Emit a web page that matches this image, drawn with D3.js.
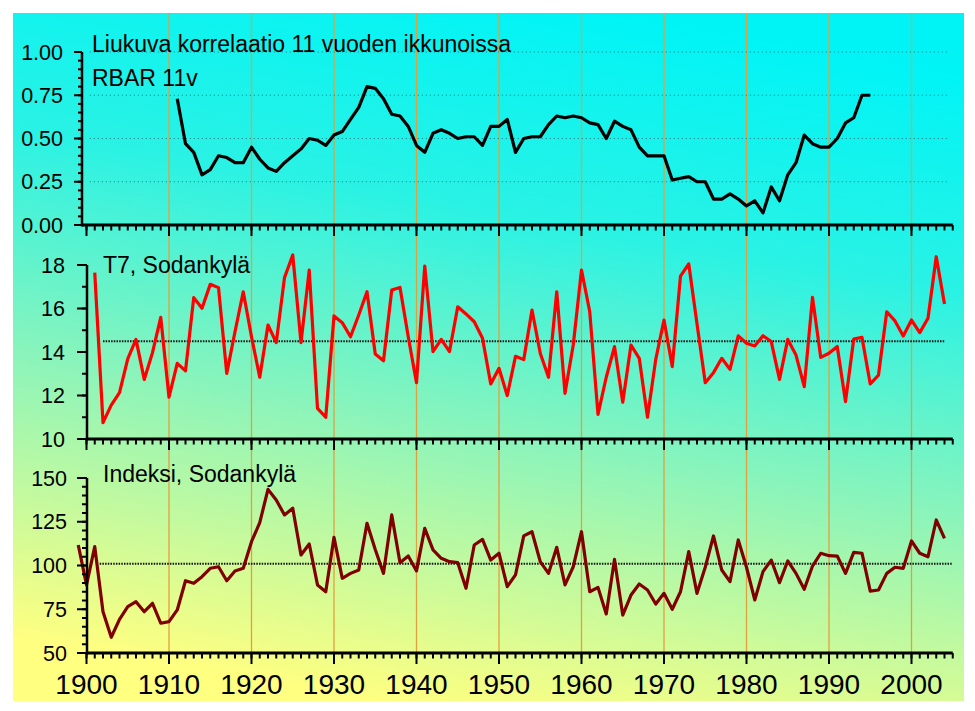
<!DOCTYPE html>
<html>
<head>
<meta charset="utf-8">
<script src="https://cdn.jsdelivr.net/npm/d3@7"></script>
<style>
  html, body { margin: 0; padding: 0; background: #ffffff; }
  svg { display: block; }
  text { font-family: "Liberation Sans", Arial, sans-serif; fill: #000; }
</style>
</head>
<body>
<svg id="chart" width="975" height="711"></svg>
<script>
// ---------------- DATA ----------------
const rbarStart = 1911;
const rbar = [
  0.73,0.47,0.42,0.29,0.32,0.40,0.39,0.36,0.36,
  0.45,0.38,0.33,0.31,0.36,0.40,0.44,0.50,0.49,0.46,
  0.52,0.54,0.61,0.68,0.80,0.79,0.73,0.64,0.63,0.57,
  0.46,0.42,0.53,0.55,0.53,0.50,0.51,0.51,0.46,0.57,
  0.57,0.61,0.42,0.50,0.51,0.51,0.58,0.63,0.62,0.63,
  0.62,0.59,0.58,0.50,0.60,0.57,0.55,0.45,0.40,0.40,
  0.40,0.26,0.27,0.28,0.25,0.25,0.15,0.15,0.18,0.15,
  0.11,0.14,0.07,0.22,0.14,0.29,0.36,0.52,0.47,0.45,
  0.45,0.50,0.59,0.62,0.75,0.75
];

const t7Start = 1901;
const t7 = [
  17.65,10.75,11.56,12.13,13.68,14.58,12.74,13.97,15.59,
  11.92,13.48,13.13,16.50,16.01,17.11,16.96,13.02,14.93,16.77,
  14.70,12.84,15.24,14.43,17.42,18.46,14.43,17.77,11.41,11.00,
  15.66,15.35,14.70,15.70,16.77,13.91,13.60,16.85,16.97,14.70,
  12.59,17.95,14.02,14.58,14.02,16.08,15.75,15.39,14.63,12.53,
  13.25,12.00,13.80,13.65,15.93,13.94,12.84,16.77,12.10,14.32,
  17.77,15.85,11.13,12.84,14.25,11.69,14.32,13.71,11.00,13.66,
  15.47,13.33,17.49,18.05,15.30,12.59,13.05,13.71,13.20,14.74,
  14.40,14.28,14.75,14.48,12.74,14.58,13.86,12.41,16.51,13.75,
  13.94,14.25,11.72,14.60,14.67,12.53,12.94,15.85,15.43,14.74,
  15.47,14.89,15.55,18.38,16.21
];
const t7Mean = 14.5;
const t7MeanSpan = [1902, 2004];

const indexStart = 1899;
const indexValues = [
  111.7,88.9,
  110.8,73.6,59.0,69.2,76.5,79.3,73.6,78.4,67.0,
  67.9,74.6,91.3,89.8,93.6,98.4,99.3,91.3,96.9,98.4,
  113.6,124.5,143.5,137.4,128.9,132.7,106.0,112.3,88.9,85.0,
  116.1,92.7,95.5,97.4,124.1,109.2,95.5,128.9,101.6,105.4,
  96.9,121.2,108.9,104.1,102.2,101.6,87.0,111.7,114.9,103.1,
  107.0,87.9,94.6,116.9,119.3,102.2,95.5,110.4,88.9,99.3,
  119.3,85.0,87.5,72.3,103.5,71.7,83.1,89.4,86.0,78.0,
  84.1,75.0,85.0,107.9,84.1,99.0,116.9,97.4,90.8,114.6,
  99.0,80.3,96.5,103.1,90.2,102.6,95.5,86.4,99.7,107.0,
  105.6,105.4,95.5,107.5,107.0,85.4,86.0,95.5,99.0,98.4,
  114.0,107.0,105.0,126.0,115.5
];
const indexMean = 101;
const indexMeanSpan = [1901.6, 2005];

const decadeTicks = [1900,1910,1920,1930,1940,1950,1960,1970,1980,1990,2000];
const yearTicks = d3.range(1900, 2006);

const rbarTicks = [0, 0.25, 0.5, 0.75, 1.0];
const rbarMinor = d3.range(0, 1.0001, 0.05);
const rbarGrid = [0.25, 0.5, 0.75, 1.0];
const t7Ticks = [10, 12, 14, 16, 18];
const t7Minor = d3.range(10, 18.001, 1);
const indexTicks = [50, 75, 100, 125, 150];
const indexMinor = d3.range(50, 150.001, 5);

const titleTop1 = "Liukuva korrelaatio 11 vuoden ikkunoissa";
const titleTop2 = "RBAR 11v";
const titleMid = "T7, Sodankylä";
const titleBot = "Indeksi, Sodankylä";

// ---------------- CHART ----------------
const svg = d3.select("#chart");

// background gradient
const defs = svg.append("defs");
const grad = defs.append("linearGradient").attr("id", "bg")
  .attr("x1", "0.62").attr("y1", "0").attr("x2", "0.38").attr("y2", "1");
grad.append("stop").attr("offset", "0").attr("stop-color", "#00f4f6");
grad.append("stop").attr("offset", "0.3").attr("stop-color", "#2af2e4");
grad.append("stop").attr("offset", "0.6").attr("stop-color", "#88f4bc");
grad.append("stop").attr("offset", "1").attr("stop-color", "#ffff80");
svg.append("rect").attr("x", 13).attr("y", 13).attr("width", 951).attr("height", 688)
  .attr("fill", "url(#bg)");

const x = d3.scaleLinear().domain([1900, 2000]).range([86.5, 911.5]);
const xEnd = x(2005);

// decade gridlines
svg.append("g").selectAll("line").data(decadeTicks.filter(d => d > 1900)).join("line")
  .attr("x1", d => x(d)).attr("x2", d => x(d))
  .attr("y1", 13).attr("y2", 653)
  .attr("stroke", "#e0a040").attr("stroke-width", 1.3);

const font = '"Liberation Sans", Arial, sans-serif';

function panel(cfg) {
  const g = svg.append("g");
  const y = cfg.y;
  const [y0, y1] = y.range();
  if (cfg.grid) {
    g.append("g").selectAll("line").data(cfg.grid).join("line")
      .attr("x1", x(1900.4)).attr("x2", x(2004.4))
      .attr("y1", d => y(d)).attr("y2", d => y(d))
      .attr("stroke", "#1a7a80").attr("stroke-width", 1)
      .attr("stroke-dasharray", "1,3");
  }
  if (cfg.mean !== undefined) {
    g.append("line")
      .attr("x1", x(cfg.meanSpan[0])).attr("x2", x(cfg.meanSpan[1]))
      .attr("y1", y(cfg.mean)).attr("y2", y(cfg.mean))
      .attr("stroke", "#111").attr("stroke-width", 2)
      .attr("stroke-dasharray", "1.5,1.2");
  }
  const pts = cfg.values.map((v, i) => [cfg.start + i, v]);
  g.append("path").datum(pts)
    .attr("d", d3.line().x(d => x(d[0])).y(d => y(d[1])))
    .attr("fill", "none").attr("stroke", cfg.color).attr("stroke-width", 3.2)
    .attr("stroke-linejoin", "round").attr("stroke-linecap", "butt");

  const xa = g.append("g");
  xa.selectAll("line.minor").data(yearTicks).join("line").attr("class", "minor")
    .attr("x1", d => x(d)).attr("x2", d => x(d))
    .attr("y1", y0).attr("y2", y0 + 5.5)
    .attr("stroke", "#000").attr("stroke-width", 2);
  xa.selectAll("line.major").data(decadeTicks).join("line").attr("class", "major")
    .attr("x1", d => x(d)).attr("x2", d => x(d))
    .attr("y1", y0).attr("y2", y0 + 11)
    .attr("stroke", "#000").attr("stroke-width", 2);
  xa.append("line").attr("x1", cfg.axisX).attr("x2", xEnd)
    .attr("y1", y0).attr("y2", y0).attr("stroke", "#000").attr("stroke-width", 3);
  if (cfg.labels) {
    xa.selectAll("text").data(decadeTicks).join("text")
      .attr("x", d => x(d)).attr("y", y0 + 41)
      .attr("text-anchor", "middle").attr("font-size", 28)
      .attr("font-family", font)
      .text(d3.format("d"));
  }

  const ya = g.append("g");
  ya.selectAll("line.minor").data(cfg.minor).join("line").attr("class", "minor")
    .attr("x1", cfg.axisX - cfg.minorLen).attr("x2", cfg.axisX)
    .attr("y1", d => y(d)).attr("y2", d => y(d))
    .attr("stroke", "#000").attr("stroke-width", 2);
  ya.selectAll("line.major").data(cfg.ticks).join("line").attr("class", "major")
    .attr("x1", cfg.axisX - cfg.majorLen).attr("x2", cfg.axisX)
    .attr("y1", d => y(d)).attr("y2", d => y(d))
    .attr("stroke", "#000").attr("stroke-width", 2);
  ya.append("line").attr("x1", cfg.axisX).attr("x2", cfg.axisX)
    .attr("y1", y1).attr("y2", y0 + 1.5).attr("stroke", "#000").attr("stroke-width", 2.5);
  ya.selectAll("text").data(cfg.ticks).join("text")
    .attr("x", cfg.labelX).attr("y", d => y(d))
    .attr("dy", "0.36em").attr("text-anchor", "end")
    .attr("font-size", 21.5).attr("font-family", font)
    .text(cfg.fmt);

  cfg.titles.forEach(t => {
    g.append("text").attr("x", t.x).attr("y", t.y)
      .attr("font-size", 23).attr("font-family", font).text(t.text);
  });
}

panel({
  y: d3.scaleLinear().domain([0, 1]).range([225, 52]),
  values: rbar, start: rbarStart, color: "#000000",
  grid: rbarGrid,
  ticks: rbarTicks, minor: rbarMinor, fmt: d3.format(".2f"),
  axisX: 82, majorLen: 8, minorLen: 4, labelX: 63,
  titles: [{ x: 92, y: 52, text: titleTop1 }, { x: 92, y: 86, text: titleTop2 }]
});

panel({
  y: d3.scaleLinear().domain([10, 18]).range([439, 265]),
  values: t7, start: t7Start, color: "#ff0000",
  mean: t7Mean, meanSpan: t7MeanSpan,
  ticks: t7Ticks, minor: t7Minor, fmt: d3.format("d"),
  axisX: 87, majorLen: 10, minorLen: 5, labelX: 65,
  titles: [{ x: 103, y: 273, text: titleMid }]
});

panel({
  y: d3.scaleLinear().domain([50, 150]).range([653, 478]),
  values: indexValues, start: indexStart, color: "#800000",
  mean: indexMean, meanSpan: indexMeanSpan,
  ticks: indexTicks, minor: indexMinor, fmt: d3.format("d"),
  axisX: 87, majorLen: 10, minorLen: 5, labelX: 67,
  labels: true,
  titles: [{ x: 103, y: 482, text: titleBot }]
});
</script>
</body>
</html>
